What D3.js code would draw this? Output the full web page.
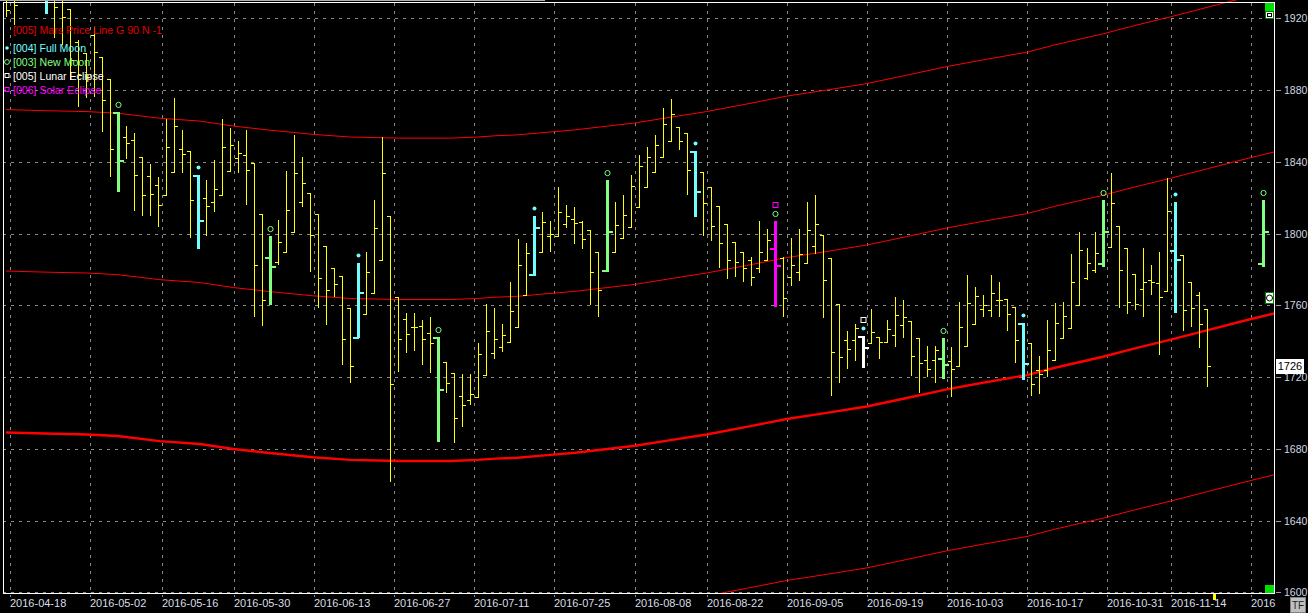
<!DOCTYPE html>
<html lang="en">
<head>
<meta charset="utf-8">
<script src="https://cdn.jsdelivr.net/npm/d3@7/dist/d3.min.js"></script>
<style type="text/css">
body {
	margin: 0;
	background: #000;
	overflow: hidden;
}
svg { display: block; }
text { font-family: "Liberation Sans", Arial, sans-serif; }
</style>
</head>
<body>
<script type="text/javascript">

// daily OHLC, bar index 0 = 2016-04-18
var opens = [1933.0,1935.8,1940,1946,1950,1941.4,1934.7,1933.0,1925.2,1906.8,
	1900.7,1910.7,1898.4,1886.2,1867.8,1853.8,1852.2,1842.7,1832.1,1827.1,
	1821.5,1834.3,1847.1,1846.0,1832.6,1819.8,1817.6,1821.5,1834.9,1842.1,
	1843.8,1839.3,1810.9,1786.9,1784.1,1789.7,1800.9,1817.6,1822.6,1810.9,
	1793.1,1780.8,1776.3,1758.5,1742.3,1755.1,1766.9,1785.2,1809.8,1764.6,
	1752.4,1747.9,1748.5,1744.6,1742.3,1728.4,1722.3,1709.4,1707.2,1708.9,
	1721.1,1733.4,1736.7,1739.5,1747.9,1765.7,1777.4,1789.7,1798.6,1798.6,
	1805.3,1808.1,1806.4,1802.0,1789.7,1779.7,1789.7,1797.5,1803.6,1814.8,
	1826.0,1834.3,1842.7,1851.6,1859.4,1856.1,1846.0,1834.3,1826.0,1815.4,
	1805.3,1795.3,1789.7,1785.2,1780.8,1785.2,1792.0,1786.4,1775.8,1778.6,
	1783.6,1793.1,1799.2,1786.4,1760.7,1740.6,1740.6,1742.9,1739.0,1742.3,
	1739.5,1743.4,1749.0,1751.2,1741.8,1729.5,1729.5,1730.6,1728.9,1726.2,
	1737.3,1749.6,1757.9,1757.4,1763.0,1763.5,1759.1,1750.1,1739.0,1723.9,
	1723.9,1729.5,1741.8,1747.3,1760.2,1775.2,1779.7,1783.6,1792.5,1804.2,
	1791.9,1777.4,1769.1,1774.1,1772.4,1768.0,1790.8,1788.0,1773.0,1765.7,
	1757.9];
var highs = [1938.6,1941.4,1952,1958,1955,1946.9,1938.6,1935.8,1925.2,1907.9,
	1900.7,1915.1,1898.4,1886.2,1867.8,1860.0,1856.1,1842.7,1838.8,1831.5,
	1863.9,1875.6,1857.7,1846.0,1832.6,1829.8,1841.0,1863.9,1858.8,1851.6,
	1857.7,1839.3,1810.9,1798.6,1807.6,1834.9,1854.9,1842.7,1822.6,1810.9,
	1793.1,1780.8,1776.3,1758.5,1783.6,1789.7,1818.7,1853.8,1809.8,1764.6,
	1755.7,1755.7,1751.8,1753.5,1742.3,1728.4,1722.3,1721.7,1721.7,1739.0,
	1760.7,1758.5,1749.6,1773.0,1797.0,1794.7,1809.8,1812.0,1807.0,1826.0,
	1815.9,1814.8,1807.0,1802.0,1789.7,1829.8,1817.6,1821.5,1832.6,1843.8,
	1848.2,1854.9,1870.0,1875.0,1859.4,1856.1,1846.0,1834.3,1826.0,1815.4,
	1805.3,1795.3,1789.7,1786.9,1807.0,1802.5,1807.0,1786.9,1797.5,1802.5,
	1817.6,1821.5,1799.2,1786.4,1760.7,1745.7,1749.6,1742.9,1757.9,1742.3,
	1751.8,1764.6,1762.9,1751.2,1741.8,1737.3,1737.3,1741.8,1736.8,1761.8,
	1776.9,1770.2,1765.7,1776.9,1773.0,1763.5,1759.1,1750.1,1739.0,1731.7,
	1751.8,1761.3,1761.8,1788.6,1800.9,1791.9,1800.9,1818.7,1833.8,1804.2,
	1791.9,1777.4,1791.9,1782.5,1789.7,1831.0,1817.6,1788.0,1773.0,1767.4,
	1757.9];
var lows = [1920.7,1916.3,1935,1940,1936,1922.4,1909.0,1905.1,1885.6,1870.5,
	1875.6,1876.1,1856.6,1831.5,1823.2,1841.6,1812.6,1809.8,1809.8,1803.6,
	1821.5,1834.3,1833.8,1797.5,1791.4,1798.6,1812.0,1821.5,1834.9,1833.8,
	1815.9,1753.5,1748.5,1760.2,1782.5,1789.7,1800.9,1814.8,1778.6,1758.5,
	1749.0,1764.6,1726.7,1716.7,1741.8,1755.1,1766.9,1785.2,1661.5,1722.8,
	1733.4,1734.5,1726.7,1722.3,1683.8,1711.1,1683.2,1692.1,1704.4,1708.9,
	1721.1,1730.1,1734.0,1739.5,1747.9,1765.7,1776.3,1789.7,1789.7,1798.6,
	1803.1,1794.2,1791.4,1760.2,1753.5,1778.6,1789.7,1797.5,1803.6,1814.8,
	1826.0,1834.3,1842.7,1851.6,1846.6,1821.5,1809.2,1798.6,1795.8,1780.8,
	1774.7,1775.8,1773.0,1770.8,1778.0,1785.2,1759.0,1753.5,1770.8,1773.6,
	1783.6,1788.6,1752.9,1709.4,1716.7,1724.5,1728.9,1725.0,1739.0,1730.1,
	1739.5,1736.7,1741.8,1720.6,1711.1,1720.0,1716.7,1718.9,1708.9,1726.2,
	1737.3,1749.6,1753.5,1753.5,1753.5,1745.7,1727.8,1718.4,1709.4,1710.5,
	1720.0,1729.5,1741.8,1747.3,1760.2,1774.1,1778.0,1781.3,1792.5,1758.5,
	1755.1,1757.4,1753.5,1765.7,1732.3,1768.0,1755.7,1745.7,1747.9,1736.2,
	1714.5];
var closes = [1924.6,1927.4,1946,1950,1940,1933.0,1926.3,1920.7,1896.8,1888.4,
	1887.3,1901.2,1874.5,1847.1,1841.0,1850.5,1832.6,1821.5,1822.0,1815.9,
	1848.2,1860.0,1844.3,1818.7,1807.5,1815.4,1824.8,1848.2,1849.4,1844.9,
	1835.4,1782.5,1763.0,1781.9,1795.3,1813.1,1833.8,1828.2,1799.2,1775.2,
	1768.5,1771.9,1741.2,1726.2,1767.4,1778.6,1803.1,1833.8,1716.1,1741.2,
	1744.0,1747.9,1741.2,1739.0,1713.3,1716.7,1697.2,1704.4,1710.5,1732.8,
	1745.7,1741.2,1743.4,1756.8,1782.5,1789.1,1803.6,1806.4,1799.7,1812.0,
	1809.8,1805.9,1797.0,1778.6,1768.5,1801.4,1804.8,1810.3,1826.5,1837.7,
	1842.7,1849.4,1861.1,1866.6,1851.6,1835.4,1823.7,1817.0,1804.2,1794.7,
	1785.2,1784.1,1780.8,1775.8,1789.7,1796.4,1782.5,1764.1,1782.5,1788.6,
	1802.0,1805.3,1774.1,1734.0,1731.2,1735.6,1747.3,1736.7,1745.1,1739.5,
	1746.8,1754.6,1753.5,1731.7,1727.8,1724.5,1735.1,1727.3,1724.5,1747.9,
	1761.3,1765.2,1760.2,1766.9,1763.0,1755.1,1740.6,1727.8,1716.1,1721.7,
	1735.1,1750.1,1754.0,1773.0,1790.8,1783.6,1789.1,1801.4,1817.0,1779.7,
	1761.8,1760.7,1773.0,1773.0,1764.6,1812.6,1785.8,1757.4,1758.5,1749.6,
	1726.0];

// projected bar drawn on the next new moon
var projIdx = [157];
var projOpen = [1783.6], projHigh = [1818.7], projLow = [1781.3], projClose = [1801.4];

var fullMoonIdx = [5, 24, 44, 66, 86, 107, 127, 146];
var newMoonIdx = [14, 33, 54, 75, 96, 117, 137, 157];
var lunarEclipseIdx = [107];
var solarEclipseIdx = [96];

// Mars price line (base), copies every 90 points
var marsIdx = [0, 4.87, 10.1, 13.9, 19.2, 24.2, 28.4, 32.6, 38.3, 43.0, 49.2, 55.5, 58.9,
	61.1, 63.9, 66.9, 71.1, 75.1, 78.6, 83.2, 87.5, 92.5, 97.5, 102.5, 107.5, 112.5,
	117.5, 122.0, 127.5, 131.0, 137.0, 141.0, 145.6, 150.1, 155.0, 158.4];
var marsVal = [1689.1, 1688.5, 1688.0, 1687.1, 1684.3, 1682.7, 1679.9, 1677.8, 1675.3,
	1673.8, 1673.2, 1673.2, 1673.8, 1674.5, 1675.0, 1676.2, 1677.8, 1679.9, 1681.7,
	1685.0, 1688.0, 1692.2, 1696.6, 1700.0, 1703.6, 1708.3, 1713.1, 1716.8, 1721.1,
	1725.2, 1731.3, 1736.0, 1741.0, 1746.2, 1751.8, 1755.5];
var marsOffsets = [-90, 0, 90, 180];

var priceTicks = [1600, 1640, 1680, 1720, 1760, 1800, 1840, 1880, 1920];
var dateTickIdx = [0.5, 10.5, 19.5, 28.5, 38.5, 48.5, 58.5, 68.5, 78.5, 87.5, 97.5,
	107.5, 117.5, 127.5, 137.5, 145.5, 155.5];
var dateTickLabels = ["2016-04-18", "2016-05-02", "2016-05-16", "2016-05-30", "2016-06-13",
	"2016-06-27", "2016-07-11", "2016-07-25", "2016-08-08", "2016-08-22", "2016-09-05",
	"2016-09-19", "2016-10-03", "2016-10-17", "2016-10-31", "2016-11-14", "2016"];
var lastPrice = 1726;

var width = 1308, height = 613;
var plotL = 3, plotR = 1274, plotT = 3, plotB = 593;

var x = d3.scaleLinear().domain([0, 150]).range([6, 1207]);
var y = d3.scaleLinear().domain([1600, 1920]).range([592.3, 18.3]);

var YELLOW = "#ffff00", CYAN = "#70ffff", GREEN = "#80ff80", MAGENTA = "#ff00ff", RED = "#ff0000";

var svg = d3.select("body")
			.append("svg")
			.attr("width", width)
			.attr("height", height)
			.style("background", "#000");

svg.append("defs").append("clipPath").attr("id", "plot")
	.append("rect").attr("x", plotL).attr("y", 0)
	.attr("width", plotR - plotL).attr("height", plotB);

// grid
var grid = svg.append("g")
	.attr("stroke", "#8a8a8a")
	.attr("stroke-dasharray", "3,5")
	.attr("shape-rendering", "crispEdges");

grid.selectAll(".hg")
	.data(priceTicks)
	.enter().append("line")
	.attr("x1", plotL).attr("x2", plotR)
	.attr("y1", d => Math.round(y(d)) + 0.5)
	.attr("y2", d => Math.round(y(d)) + 0.5);

grid.selectAll(".vg")
	.data(dateTickIdx)
	.enter().append("line")
	.attr("x1", d => Math.round(x(d)) + 0.5)
	.attr("x2", d => Math.round(x(d)) + 0.5)
	.attr("y1", plotT).attr("y2", plotB + 4);

// right axis
var yax = svg.append("g");
yax.selectAll("line")
	.data(priceTicks)
	.enter().append("line")
	.attr("x1", plotR + 2).attr("x2", plotR + 7)
	.attr("y1", d => Math.round(y(d)) + 0.5)
	.attr("y2", d => Math.round(y(d)) + 0.5)
	.attr("stroke", "#a0a0a0");
yax.selectAll("text")
	.data(priceTicks)
	.enter().append("text")
	.attr("x", plotR + 10)
	.attr("y", d => y(d) + 4)
	.attr("fill", "#d0d8e0")
	.style("font-size", "10.5px")
	.text(d => d);

// bottom axis
svg.append("g").selectAll("text")
	.data(dateTickIdx)
	.enter().append("text")
	.attr("x", d => Math.round(x(d)))
	.attr("y", 607)
	.attr("fill", "#d8dde6")
	.style("font-size", "11px")
	.text((d, k) => dateTickLabels[k]);

var plot = svg.append("g").attr("clip-path", "url(#plot)");

// Mars lines
var marsLine = d3.line()
	.x(d => x(d[0]))
	.y(d => y(d[1]));

plot.selectAll(".mars")
	.data(marsOffsets)
	.enter().append("path")
	.attr("d", off => marsLine(marsIdx.map((t, k) => [t, marsVal[k] + off])))
	.attr("fill", "none")
	.attr("stroke", RED)
	.attr("stroke-width", off => off == 0 ? 2.4 : 1);

// bars
var bars = opens.map((o, i) => ({i: i, o: o, h: highs[i], l: lows[i], c: closes[i]}));
projIdx.forEach((t, k) => bars.push({i: t, o: projOpen[k], h: projHigh[k], l: projLow[k], c: projClose[k]}));

function barColor(i) {
	if (lunarEclipseIdx.indexOf(i) >= 0) return "#ffffff";
	if (solarEclipseIdx.indexOf(i) >= 0) return MAGENTA;
	if (fullMoonIdx.indexOf(i) >= 0) return CYAN;
	if (newMoonIdx.indexOf(i) >= 0) return GREEN;
	return YELLOW;
}

plot.selectAll(".bar")
	.data(bars)
	.enter().append("g")
	.attr("shape-rendering", "crispEdges")
	.each(function(d) {
		var col = barColor(d.i);
		var thick = col != YELLOW;
		var w = thick ? 3 : 1;
		var cx = Math.round(x(d.i)) + 0.5;
		var tl = thick ? 4 : 3;
		var g = d3.select(this).attr("stroke", col);
		g.append("line")
			.attr("x1", cx).attr("x2", cx)
			.attr("y1", y(d.h)).attr("y2", y(d.l))
			.attr("stroke-width", w);
		g.append("line")
			.attr("x1", cx - w / 2 - tl).attr("x2", cx)
			.attr("y1", Math.round(y(d.o)) + 0.5).attr("y2", Math.round(y(d.o)) + 0.5)
			.attr("stroke-width", thick ? 2 : 1);
		g.append("line")
			.attr("x1", cx).attr("x2", cx + w / 2 + tl)
			.attr("y1", Math.round(y(d.c)) + 0.5).attr("y2", Math.round(y(d.c)) + 0.5)
			.attr("stroke-width", thick ? 2 : 1);
	});

function barAt(i) { return bars.find(b => b.i == i); }

// moon markers
var mk = svg.append("g");
mk.selectAll(".fm")
	.data(fullMoonIdx)
	.enter().append("circle")
	.attr("cx", d => Math.round(x(d)) + 0.5)
	.attr("cy", d => y(barAt(d).h) - 7.5)
	.attr("r", 2)
	.attr("fill", CYAN);
mk.selectAll(".nm")
	.data(newMoonIdx)
	.enter().append("circle")
	.attr("cx", d => Math.round(x(d)) + 0.5)
	.attr("cy", d => y(barAt(d).h) - 7)
	.attr("r", 2.6)
	.attr("fill", "none")
	.attr("stroke", GREEN);
mk.selectAll(".le")
	.data(lunarEclipseIdx)
	.enter().append("rect")
	.attr("x", d => Math.round(x(d)) - 2)
	.attr("y", d => Math.round(y(barAt(d).h)) - 18.5)
	.attr("width", 5).attr("height", 5)
	.attr("fill", "none").attr("stroke", "#ffffff");
mk.selectAll(".se")
	.data(solarEclipseIdx)
	.enter().append("rect")
	.attr("x", d => Math.round(x(d)) - 2)
	.attr("y", d => Math.round(y(barAt(d).h)) - 18.5)
	.attr("width", 5).attr("height", 5)
	.attr("fill", "none").attr("stroke", MAGENTA);

// legend
var legend = svg.append("g").style("font-size", "10.6px");
legend.append("text").attr("x", 13).attr("y", 34).attr("fill", "#e00000")
	.text("[005] Mars Price Line G 90 N -1");
var items = [["[004] Full Moon", CYAN], ["[003] New Moon", GREEN],
	["[005] Lunar Eclipse", "#ffffff"], ["[006] Solar Eclipse", MAGENTA]];
items.forEach(function(it, k) {
	var yy = 48 + k * 14;
	legend.append("text").attr("x", 13).attr("y", yy + 4).attr("fill", it[1]).text(it[0]);
	if (k == 0) legend.append("circle").attr("cx", 7).attr("cy", yy).attr("r", 1.8).attr("fill", it[1]);
	else if (k == 1) legend.append("circle").attr("cx", 7).attr("cy", yy).attr("r", 2.4)
		.attr("fill", "none").attr("stroke", it[1]);
	else legend.append("rect").attr("x", 5).attr("y", yy - 2.5).attr("width", 4).attr("height", 4)
		.attr("fill", "none").attr("stroke", it[1]);
});

// frame
svg.append("line").attr("x1", 0).attr("x2", 545).attr("y1", 0.5).attr("y2", 0.5).attr("stroke", "#b0b0b0");
svg.append("rect")
	.attr("x", plotL + 0.5).attr("y", plotT - 0.5)
	.attr("width", plotR - plotL).attr("height", plotB - plotT + 0.5)
	.attr("fill", "none").attr("stroke", "#ffffff")
	.attr("shape-rendering", "crispEdges");

// right edge widgets
svg.append("rect").attr("x", 1265).attr("y", 3).attr("width", 9).attr("height", 8).attr("fill", "#00e000");
svg.append("rect").attr("x", 1265.5).attr("y", 11.5).attr("width", 8).attr("height", 7)
	.attr("fill", "#ffffff").attr("stroke", "#008000");
svg.append("rect").attr("x", 1267.5).attr("y", 13.5).attr("width", 4).attr("height", 3)
	.attr("fill", "none").attr("stroke", "#000");
svg.append("rect").attr("x", 1265.5).attr("y", 292.5).attr("width", 8).attr("height", 11)
	.attr("fill", "#ffffff").attr("stroke", "#008000");
svg.append("circle").attr("cx", 1269.5).attr("cy", 298).attr("r", 3)
	.attr("fill", "none").attr("stroke", "#000");
svg.append("rect").attr("x", 1265).attr("y", 585).attr("width", 9).attr("height", 8).attr("fill", "#00e000");
svg.append("rect").attr("x", Math.round(x(150.7))).attr("y", 594).attr("width", 3).attr("height", 6).attr("fill", YELLOW);

// last price tag
svg.append("rect").attr("x", plotR + 2).attr("y", Math.round(y(lastPrice)) - 7)
	.attr("width", 28).attr("height", 15).attr("fill", "#ffffff");
svg.append("text").attr("x", plotR + 16).attr("y", y(lastPrice) + 4)
	.attr("text-anchor", "middle").attr("fill", "#000").style("font-size", "11px")
	.text(lastPrice);

// TF button
svg.append("rect").attr("x", 1290.5).attr("y", 597.5).attr("width", 15).attr("height", 15)
	.attr("fill", "#c0c0c0").attr("stroke", "#808080");
svg.append("text").attr("x", 1298).attr("y", 609).attr("text-anchor", "middle")
	.attr("fill", "#202020").style("font-size", "10px").text("TF");

</script>
</body>
</html>
